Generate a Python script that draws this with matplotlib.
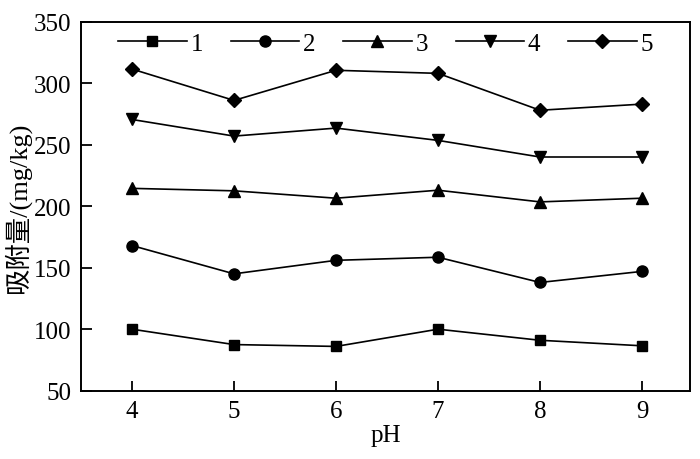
import matplotlib
matplotlib.use("Agg")
import matplotlib.pyplot as plt

ph = [4, 5, 6, 7, 8, 9]
s1 = [100, 87.5, 86, 100, 91, 86.5]
s2 = [168, 145, 156, 158.5, 138, 147]
s3 = [214.5, 212.5, 206.5, 213, 203.5, 206.5]
s4 = [270.5, 257, 263.5, 253.5, 240, 240]
s5 = [311.5, 286, 310.5, 308, 278, 283]
series = [s1, s2, s3, s4, s5]
labels = ["1", "2", "3", "4", "5"]
markers = ["s", "o", "^", "v", "D"]
msizes = [7.5, 8, 8.5, 8.5, 7.5]
yticks = [50, 100, 150, 200, 250, 300, 350]

plt.rcParams['font.family'] = ['Liberation Serif', 'Noto Sans CJK SC']
plt.rcParams['font.size'] = 18

fig = plt.figure(figsize=(7, 4.6), dpi=100)
ax = fig.add_axes([81/700, 1-391.7/460, (690-81)/700, (391.7-22.7)/460])

for vals, lab, m, ms in zip(series, labels, markers, msizes):
    ax.plot(ph, vals, color='black', marker=m, markersize=ms, linewidth=1.2, label=lab)

ax.set_xlim(3.5, 9.47)
ax.set_ylim(50, 350)
ax.set_xticks(ph)
ax.set_yticks(yticks)
ax.tick_params(axis='x', direction='in', length=7, width=1.3, pad=7)
ax.tick_params(axis='y', direction='in', length=8, width=1.3, pad=7)
for sp in ax.spines.values():
    sp.set_linewidth(1.4)

ax.set_xlabel("pH", labelpad=1)
ax.set_ylabel("吸附量/(mg/kg)", family=['Liberation Serif', 'Noto Sans CJK SC'],
              fontsize=19, labelpad=2)

ax.legend(loc='upper center', ncol=5, frameon=False, handlelength=2.75,
          columnspacing=1.1, handletextpad=0.15, bbox_to_anchor=(0.5, 1.012),
          borderaxespad=0.2)

fig.savefig("out.png", dpi=100)
